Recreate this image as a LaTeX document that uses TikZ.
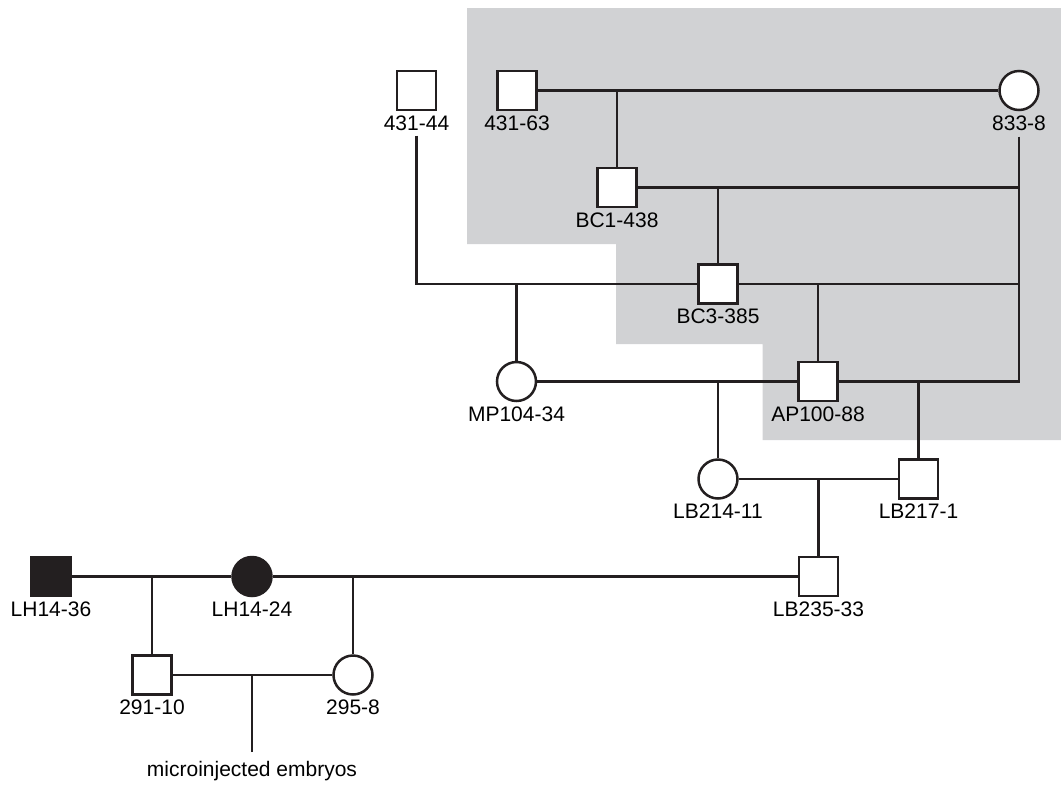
\documentclass[tikz,border=0pt]{standalone}
\usepackage{fontspec}
\setmainfont{Liberation Sans}
\begin{document}
\begin{tikzpicture}[x=1pt,y=-1pt,
  ink/.style={draw=linec,line width=2.5pt},
  male/.style={ink,rectangle,fill=white,minimum size=39pt,inner sep=0pt},
  female/.style={ink,circle,fill=white,minimum size=39pt,inner sep=0pt},
  aff/.style={fill=linec},
  lab/.style={anchor=base,inner sep=0pt,font=\fontsize{21}{24}\selectfont,text=black},
  conn/.style={draw=linec,line width=2.4pt}]
\definecolor{linec}{HTML}{231F20}
\definecolor{bggray}{HTML}{D1D2D4}
\useasboundingbox (0,0) rectangle (1061,785);
% shaded region
\fill[bggray] (467,8) -- (1061,8) -- (1061,440) -- (762.5,440) -- (762.5,344) -- (616,344) -- (616,244) -- (467,244) -- cycle;
% individuals
\node[male] (p4344) at (416.5,90.5) {};
\node[male] (p4363) at (517,90.5) {};
\node[female] (p8338) at (1019,90.5) {};
\node[male] (bc1) at (617,187.5) {};
\node[male] (bc3) at (718,284) {};
\node[female] (mp) at (516.5,381.5) {};
\node[male] (ap) at (818,381.5) {};
\node[female] (lb214) at (718,479) {};
\node[male] (lb217) at (918.5,479) {};
\node[male] (lb235) at (818.5,576.5) {};
\node[male,aff] (lh36) at (51,576.5) {};
\node[female,aff] (lh24) at (252,576.5) {};
\node[male] (p291) at (152,675) {};
\node[female] (p295) at (353,675) {};
% labels
\node[lab] (l4344) at ([yshift=-19pt]p4344.south) {431-44};
\node[lab] (l4363) at ([yshift=-19pt]p4363.south) {431-63};
\node[lab] (l8338) at ([yshift=-19pt]p8338.south) {833-8};
\node[lab] (lbc1) at ([yshift=-19pt]bc1.south) {BC1-438};
\node[lab] (lbc3) at ([yshift=-19pt]bc3.south) {BC3-385};
\node[lab] (lmp) at ([yshift=-19pt]mp.south) {MP104-34};
\node[lab] (lap) at ([yshift=-19pt]ap.south) {AP100-88};
\node[lab] (llb214) at ([yshift=-19pt]lb214.south) {LB214-11};
\node[lab] (llb217) at ([yshift=-19pt]lb217.south) {LB217-1};
\node[lab] (llb235) at ([yshift=-19pt]lb235.south) {LB235-33};
\node[lab] (llh36) at ([yshift=-19pt]lh36.south) {LH14-36};
\node[lab] (llh24) at ([yshift=-19pt]lh24.south) {LH14-24};
\node[lab] (l291) at ([yshift=-19pt]p291.south) {291-10};
\node[lab] (l295) at ([yshift=-19pt]p295.south) {295-8};
\coordinate (emb) at (252,752);
\node[lab] (lemb) at (252,776) {microinjected embryos};
% connectors
\draw[conn] (p4363.east) -- (p8338.west);
\draw[conn] (bc1.north) -- (bc1.north |- p4363.east);
\draw[conn,shorten <=6pt] (l8338.south) |- (ap.east);
\draw[conn] (bc1.east) -- (bc1.east -| l8338.south);
\draw[conn] (bc3.north) -- (bc3.north |- bc1.east);
\draw[conn,shorten <=5pt] (l4344.south) |- (bc3.west);
\draw[conn] (bc3.east) -- (bc3.east -| l8338.south);
\draw[conn] (mp.north) -- (mp.north |- bc3.west);
\draw[conn] (ap.north) -- (ap.north |- bc3.east);
\draw[conn] (mp.east) -- (ap.west);
\draw[conn] (lb214.north) -- (lb214.north |- ap.west);
\draw[conn] (lb217.north) -- (lb217.north |- ap.east);
\draw[conn] (lb214.east) -- (lb217.west);
\draw[conn] (lb235.north) -- (lb235.north |- lb214.east);
\draw[conn] (lh36.east) -- (lh24.west);
\draw[conn] (lh24.east) -- (lb235.west);
\draw[conn] (p291.north) -- (p291.north |- lh36.east);
\draw[conn] (p295.north) -- (p295.north |- lh24.east);
\draw[conn] (p291.east) -- (p295.west);
\draw[conn] (emb) -- (emb |- p291.east);
\end{tikzpicture}
\end{document}
